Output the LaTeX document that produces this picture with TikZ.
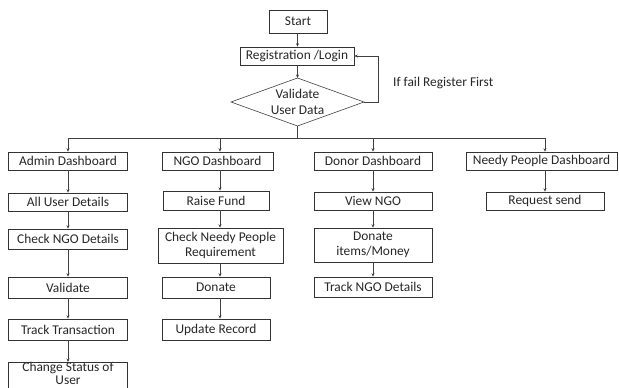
\documentclass[tikz,border=0pt]{standalone}
\usepackage{fontspec}
\setmainfont{Carlito}
\usetikzlibrary{arrows.meta,calc}
\begin{document}
\begin{tikzpicture}[x=1pt,y=-1pt,
  box/.style={draw=black!80,line width=0.6pt,inner sep=0pt,minimum height=18pt,align=center,
    font=\fontsize{13.4}{15.5}\selectfont,text=black!85},
  boxline/.style={draw=black!80,line width=0.6pt},
  link/.style={draw=black!75,line width=0.6pt},
  arr/.style={link,-{Stealth[length=3.5pt,width=3pt]}},
  lbl/.style={font=\fontsize{13.4}{15.5}\selectfont,text=black!85,inner sep=0pt}]
\useasboundingbox (0,0) rectangle (619,388);
% top part
\node[box,minimum width=58pt,minimum height=23pt] (start) at (298,21.5) {Start};
\node[box,minimum width=114pt] (reg) at (297,56) {Registration /Login};
\coordinate (vt) at (297.5,78);
\coordinate (vr) at (364,102);
\coordinate (vb) at (297.5,126);
\coordinate (vl) at (231,102);
\draw[link] (vt) -- (vr) -- (vb) -- (vl) -- cycle;
\node[lbl,align=center] (val) at (297.5,102) {Validate\\User Data};
\node[lbl,anchor=west] (fail) at (393,83) {If fail Register First};
\coordinate (fb) at (378,102);
\draw[arr] (start.south -| vt) -- (reg.north -| vt) ;
\draw[arr] (reg.south -| vt) -- (vt);
\draw[arr] (vr) -- (fb) |- (reg.east);
% columns
\coordinate (ax) at (68,138);
\coordinate (nx) at (220,138);
\coordinate (dx) at (373,138);
\coordinate (px) at (545,138);
\coordinate (bus) at (297.5,138);
\draw[link] (vb) -- (bus);
\draw[link] (ax) -- (px);
% admin
\node[box,minimum width=119pt] (admin) at (68,161) {Admin Dashboard};
\node[box,minimum width=119pt] (allu) at (68,202) {All User Details};
\node[box,minimum width=119pt,minimum height=20pt] (chkngo) at (68,239) {Check NGO Details};
\node[box,minimum width=119pt,minimum height=21pt] (valid) at (68,287.5) {Validate};
\node[box,minimum width=119pt,minimum height=21pt] (tracktr) at (68,329.5) {Track Transaction};
\node[lbl,align=center,font=\fontsize{13.4}{13.5}\selectfont] (chst) at (68,373.5) {Change Status of\\User};
\coordinate (chtl) at (8.5,362);
\coordinate (chtr) at (127.5,362);
\coordinate (chtop) at (68,362);
\draw[boxline] (chtl |- 0,395) -- (chtl) -- (chtr) -- (chtr |- 0,395);
% ngo
\node[box,minimum width=111pt] (ngo) at (217.5,161) {NGO Dashboard};
\node[box,minimum width=106pt,minimum height=19pt] (raise) at (216,200.5) {Raise Fund};
\node[box,minimum width=125pt,minimum height=35pt] (chkneedy) at (220.5,245.5) {Check Needy People\\Requirement};
\node[box,minimum width=108pt,minimum height=21pt] (donate) at (216,287.5) {Donate};
\node[box,minimum width=108pt,minimum height=21pt] (update) at (216,329.5) {Update Record};
% donor
\node[box,minimum width=118pt] (donor) at (373,161) {Donor Dashboard};
\node[box,minimum width=118pt] (view) at (373,201) {View NGO};
\node[box,minimum width=118pt,minimum height=34pt] (items) at (373,245) {Donate\\items/Money};
\node[box,minimum width=118pt,minimum height=20pt] (trackngo) at (373,287) {Track NGO Details};
% needy
\node[box,minimum width=151pt] (needy) at (541.5,161) {Needy People Dashboard};
\node[box,minimum width=118pt] (req) at (545,201) {Request send};
% arrows from bus
\draw[arr] (ax) -- (admin.north -| ax);
\draw[arr] (nx) -- (ngo.north -| nx);
\draw[arr] (dx) -- (donor.north -| dx);
\draw[arr] (px) -- (needy.north -| px);
% admin arrows
\draw[arr] (admin.south -| ax) -- (allu.north -| ax);
\draw[arr] (allu.south -| ax) -- (chkngo.north -| ax);
\draw[arr] (chkngo.south -| ax) -- (valid.north -| ax);
\draw[arr] (valid.south -| ax) -- (tracktr.north -| ax);
\draw[arr] (tracktr.south -| ax) -- (chtop);
% ngo arrows
\draw[arr] (ngo.south -| nx) -- (raise.north -| nx);
\draw[arr] (raise.south -| nx) -- (chkneedy.north -| nx);
\draw[arr] (chkneedy.south -| nx) -- (donate.north -| nx);
\draw[arr] (donate.south -| nx) -- (update.north -| nx);
% donor arrows
\draw[arr] (donor.south -| dx) -- (view.north -| dx);
\draw[arr] (view.south -| dx) -- (items.north -| dx);
\draw[arr] (items.south -| dx) -- (trackngo.north -| dx);
% needy arrows
\draw[arr] (needy.south -| px) -- (req.north -| px);
\end{tikzpicture}
\end{document}
